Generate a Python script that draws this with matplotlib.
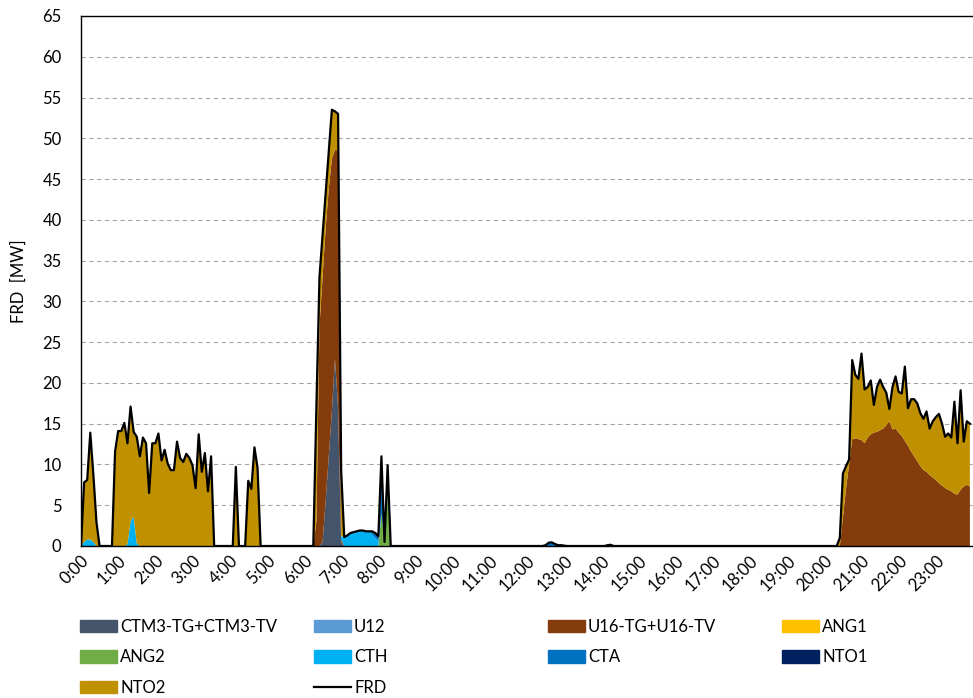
import numpy as np
import matplotlib.pyplot as plt
from matplotlib.patches import Patch
from matplotlib.lines import Line2D

plt.rcParams['font.family'] = ['Lato', 'DejaVu Sans']

# Data: 5-minute values for one day (288 steps), MW
hours = [f'{h}:00' for h in range(24)]

ctm3 = [0] * 78 + [0.5, 5.5, 11.0, 16.5, 23.0, 17.0, 0.4] + [0] * 203
u12 = [0] * 288
u16 = ([0] * 76
       + [3, 27, 32.5, 33.5, 32.8, 31.0, 25.6, 31.5, 0.4]
       + [0] * 160
       + [0, 3.5, 7.0, 10.0, 13.1, 13.2, 13.1, 13.0, 12.6, 13.3, 13.7, 13.9, 14.0, 14.2,
          14.4, 14.8, 15.3, 14.3, 14.4, 13.9, 13.5, 12.9, 12.3, 11.6, 11.0, 10.4, 9.8, 9.3,
          9.1, 8.7, 8.4, 8.1, 7.7, 7.4, 7.1, 6.9, 6.7, 6.4, 6.3, 6.9, 7.3, 7.5, 7.3])
ang1 = [0] * 288
ang2 = [0] * 97 + [4.0, 0.5, 9.9] + [0] * 188
cth = ([0] + [0.5, 0.8, 0.8, 0.5] + [0] * 10 + [0.2, 3.0, 3.6, 0.3] + [0] * 65
       + [0.4, 1.1, 1.3, 1.6, 1.7, 1.8, 1.9, 1.9, 1.8, 1.8, 1.4, 1.0, 0.6] + [0] * 191)
cta = ([0] * 94 + [0.4, 0.6, 0.6, 7.0] + [0] * 52
       + [0.1, 0.4, 0.45, 0.25, 0.1, 0.1, 0.05] + [0] * 13 + [0.1, 0.15] + [0] * 116)
nto1 = [0] * 288
nto2 = ([0, 7.3, 7.3, 13.1, 8.2, 2.9, 0] + [0] * 4
        + [11.6, 14.1, 14.1, 15.1, 12.4, 14.1, 10.4, 13.1, 11.0, 13.3, 12.6, 6.5, 12.6, 12.6,
           13.8, 10.5, 11.8, 10.1, 9.3, 9.3, 12.8, 10.8, 10.3, 11.3, 10.8, 9.9, 7.1, 13.7,
           9.1, 11.4, 6.7, 11.0]
        + [0] * 7 + [9.7] + [0] * 3 + [8.0, 7.0, 12.1, 9.6] + [0] * 18
        + [14, 6, 5.2, 4.3, 4.6, 6.0, 4.7, 4.5, 8.0, 0]
        + [0] * 159
        + [1.0, 5.4, 2.8, 0.6, 9.7, 7.8, 7.4, 10.6, 6.6, 6.2, 6.6, 3.4, 5.5, 6.2, 5.1, 4.0,
           1.5, 5.2, 6.4, 5.0, 5.2, 9.1, 4.6, 6.4, 7.0, 7.1, 6.5, 6.3, 7.4, 5.7, 6.9, 7.7,
           8.5, 7.6, 6.3, 6.9, 6.6, 11.3, 6.3, 12.2, 5.5, 7.8, 7.7])

names = ['CTM3-TG+CTM3-TV', 'U12', 'U16-TG+U16-TV', 'ANG1', 'ANG2', 'CTH', 'CTA', 'NTO1', 'NTO2']
colors = ['#44546A', '#5B9BD5', '#843C0C', '#FFC000', '#70AD47', '#00B0F0', '#0070C0', '#002060', '#BF9000']
stacks = np.array([ctm3, u12, u16, ang1, ang2, cth, cta, nto1, nto2], dtype=float)
frd = stacks.sum(axis=0)

t = np.arange(288) / 12.0

fig = plt.figure(figsize=(9.73, 6.98), dpi=100)
ax = fig.add_axes([81 / 973, 1 - 546 / 698, 1 - 81 / 973, 530 / 698])

ax.stackplot(t, stacks, colors=colors, linewidth=0)
ax.plot(t, frd, color='black', lw=1.6)

ax.set_xlim(0, 24)
ax.set_ylim(0, 65)
ax.set_yticks(range(0, 70, 5))
ax.set_xticks(range(24))
ax.set_xticklabels(hours, rotation=45, ha='right', rotation_mode='anchor', fontsize=12)
ax.tick_params(axis='y', labelsize=12, length=0, pad=14)
ax.tick_params(axis='x', length=0, pad=5)
ax.yaxis.grid(True, linestyle=(0, (4, 3)), color='#A6A6A6', lw=0.8)
ax.set_axisbelow(True)
for s in ['left', 'bottom', 'top']:
    ax.spines[s].set_color('black')
    ax.spines[s].set_linewidth(1.0)
ax.spines['right'].set_visible(False)
ax.set_ylabel('FRD  [MW]', fontsize=12, labelpad=11)

# Legend in four evenly spaced columns
handles = [Patch(color=c, label=n) for n, c in zip(names, colors)]
handles.append(Line2D([], [], color='black', lw=1.6, label='FRD'))
cols = [[handles[0], handles[4], handles[8]],
        [handles[1], handles[5], handles[9]],
        [handles[2], handles[6]],
        [handles[3], handles[7]]]
for i, col in enumerate(cols):
    fig.legend(handles=col, loc='upper left', bbox_to_anchor=((80 + 234 * i) / 973, 1 - 619 / 698),
               frameon=False, fontsize=12, handlelength=2.2, handleheight=0.75,
               handletextpad=0.2, labelspacing=0.86, borderpad=0, borderaxespad=0)

fig.savefig('out.png', dpi=100)
